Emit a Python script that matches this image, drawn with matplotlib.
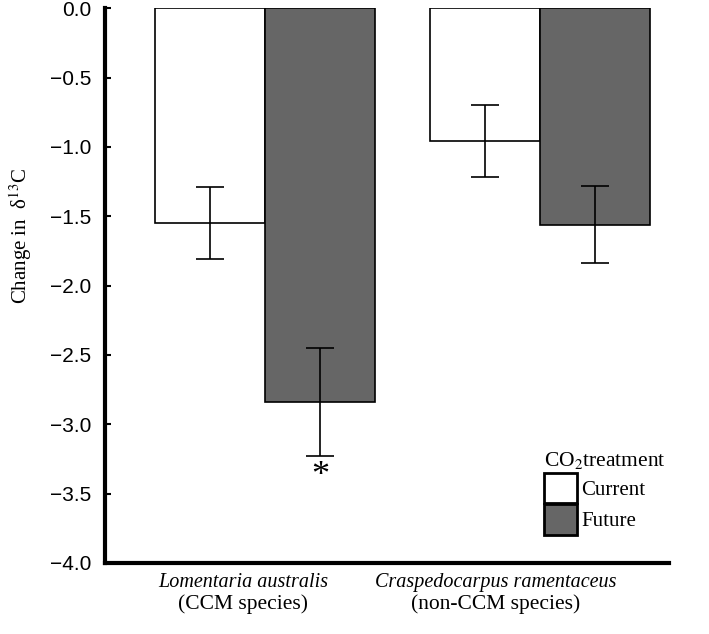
import matplotlib.pyplot as plt
import numpy as np

# species groups and treatment values (change in d13C)
species = ['Lomentaria australis', 'Craspedocarpus ramentaceus']
groups = ['(CCM species)', '(non-CCM species)']
current = [-1.55, -0.96]
current_err = [0.26, 0.26]
future = [-2.84, -1.56]
future_err = [0.39, 0.275]
yticks = [0.0, -0.5, -1.0, -1.5, -2.0, -2.5, -3.0, -3.5, -4.0]

serif = 'Liberation Serif'
sans = 'Liberation Sans'
plt.rcParams['mathtext.fontset'] = 'stix'

fig = plt.figure(figsize=(7.09, 6.34), dpi=100)
ax = fig.add_axes([0.148, 0.112, 0.7955, 0.875])

x = np.arange(len(species))
w = 0.4
err_kw = dict(ecolor='black', elinewidth=1.2, capsize=10, capthick=1.2)
ax.bar(x - w / 2, current, w, yerr=current_err, color='white',
       edgecolor='black', linewidth=1.2, error_kw=err_kw, label='Current')
ax.bar(x + w / 2, future, w, yerr=future_err, color='#666666',
       edgecolor='black', linewidth=1.2, error_kw=err_kw, label='Future')

# significance marker under the CCM future bar
ax.text(x[0] + w / 2, future[0] - future_err[0] - 0.03, '*', ha='center',
        va='top', fontsize=26, family=serif)

ax.set_xlim(-0.582, 1.469)
ax.set_ylim(-4.0, 0.0)
ax.set_yticks(yticks)
ax.set_yticklabels(['%.1f' % v if v == 0 else '\u2212%.1f' % abs(v) for v in yticks],
                   family=sans, fontsize=15)
ax.tick_params(axis='y', direction='in', length=4, width=1.5, pad=10)
ax.set_xticks([])

for s in ['top', 'right']:
    ax.spines[s].set_visible(False)
for s in ['left', 'bottom']:
    ax.spines[s].set_linewidth(3)

ax.set_ylabel('Change in  δ$^{13}$C', family=serif, fontsize=15)
ax.yaxis.set_label_coords(-0.125, 0.59)

# two-line x labels
label_x = [-0.08, 0.84]
for lx, sp, gr in zip(label_x, species, groups):
    ax.text(lx, -0.018, sp, transform=ax.get_xaxis_transform(), ha='center',
            va='top', fontsize=14.5, family=serif, style='italic')
    ax.text(lx, -0.057, gr, transform=ax.get_xaxis_transform(), ha='center',
            va='top', fontsize=15.5, family=serif)

leg = ax.legend(title='CO$_2$treatment', loc='lower right',
                bbox_to_anchor=(1.01, 0.035), frameon=False, alignment='left',
                prop={'family': serif, 'size': 15}, handlelength=1.55,
                handleheight=1.9, handletextpad=0.2, labelspacing=0.05,
                borderaxespad=0)
leg.get_title().set_family(serif)
leg.get_title().set_fontsize(15.5)
for h in leg.legend_handles:
    h.set_linewidth(2)

fig.savefig('out.png', dpi=100)
